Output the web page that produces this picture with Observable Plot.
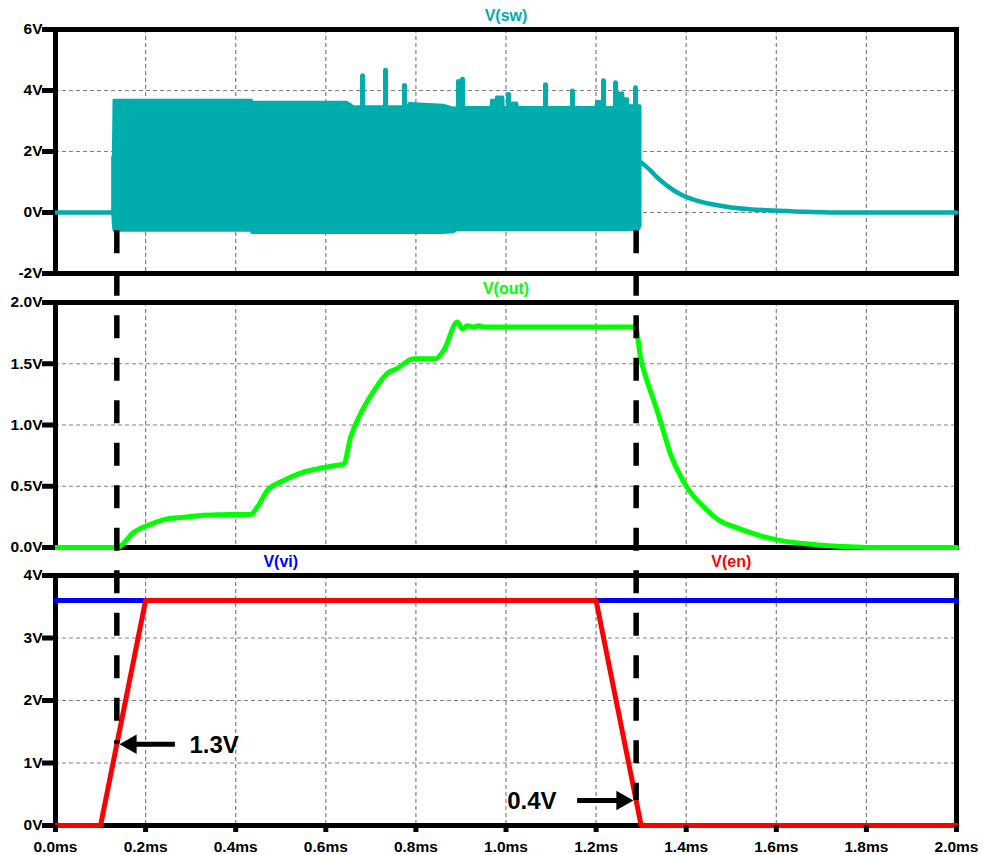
<!DOCTYPE html>
<html>
<head>
<meta charset="utf-8">
<script src="https://cdn.jsdelivr.net/npm/d3@7"></script>
<script src="https://cdn.jsdelivr.net/npm/@observablehq/plot@0.6"></script>
<style>
  body { margin: 0; background: #fff; }
  #scope { position: relative; width: 983px; height: 855px; font-family: "Liberation Sans", Arial, sans-serif; }
  #scope > div { position: absolute; left: 0; }
  #scope svg { overflow: visible; }
</style>
</head>
<body>
<div id="scope"></div>
<script>
// ---- axes ----
const xTicks = [0, 0.2, 0.4, 0.6, 0.8, 1.0, 1.2, 1.4, 1.6, 1.8, 2.0]; // ms
const swTicks = [-2, 0, 2, 4, 6];
const outTicks = [0, 0.5, 1.0, 1.5, 2.0];
const enTicks = [0, 1, 2, 3, 4];

// ---- V(sw): idle level, switching envelope, overshoot spikes, discharge tail ----
const swStartT = [0, 0.128];
const swStartV = [0, 0];

const swBandT  = [0.128, 0.1295, 0.131, 0.436, 0.437, 0.647, 0.655, 0.662, 0.782, 0.786, 0.862, 0.884, 0.892, 0.968, 0.969, 0.979, 0.980, 0.994, 0.995, 1.013, 1.014, 1.025, 1.026, 1.201, 1.202, 1.210, 1.211, 1.249, 1.250, 1.260, 1.261, 1.271, 1.272, 1.296, 1.2986];
const swBandLo = [0.0, -0.4, -0.6, -0.6, -0.67, -0.67, -0.67, -0.67, -0.67, -0.67, -0.67, -0.65, -0.58, -0.58, -0.58, -0.58, -0.58, -0.58, -0.58, -0.58, -0.58, -0.58, -0.58, -0.58, -0.58, -0.58, -0.58, -0.58, -0.58, -0.58, -0.58, -0.58, -0.58, -0.55, -0.45];
const swBandHi = [1.8, 1.8, 3.66, 3.66, 3.6, 3.6, 3.53, 3.45, 3.45, 3.56, 3.5, 3.4, 3.43, 3.43, 3.66, 3.66, 3.77, 3.77, 3.43, 3.43, 3.57, 3.57, 3.43, 3.43, 3.62, 3.62, 3.43, 3.43, 3.9, 3.9, 3.71, 3.71, 3.48, 3.48, 3.48];

const swSpikeT = [0.6815, 0.7325, 0.7747, 0.8946, 0.9034, 1.0056, 1.0877, 1.1476, 1.2164, 1.2431, 1.2875];
const swSpikeV = [4.47, 4.65, 4.15, 4.28, 4.35, 3.85, 4.17, 3.97, 4.30, 4.24, 4.07];

const swTailT = [1.2986, 1.310, 1.321, 1.335, 1.350, 1.365, 1.380, 1.394, 1.410, 1.432, 1.460, 1.500, 1.540, 1.580, 1.640, 1.700, 1.760, 2.0];
const swTailV = [1.65, 1.52, 1.37, 1.16, 0.97, 0.80, 0.655, 0.55, 0.455, 0.355, 0.26, 0.165, 0.11, 0.072, 0.035, 0.012, 0, 0];

// ---- V(out) ----
const outT = [0, 0.137, 0.174, 0.211, 0.248, 0.285, 0.322, 0.359, 0.396, 0.433, 0.448, 0.470, 0.507, 0.544, 0.581, 0.618, 0.640, 0.655, 0.677, 0.707, 0.736, 0.758, 0.795, 0.843, 0.862, 0.892, 0.903, 0.914, 0.929, 0.940, 0.950, 1.2875, 1.2986, 1.313, 1.328, 1.347, 1.365, 1.383, 1.402, 1.439, 1.476, 1.505, 1.532, 1.560, 1.587, 1.620, 1.661, 1.700, 1.735, 1.780, 1.809, 2.0];
const outV = [0, 0, 0.125, 0.19, 0.234, 0.247, 0.261, 0.267, 0.269, 0.27, 0.33, 0.465, 0.547, 0.607, 0.642, 0.667, 0.683, 0.9, 1.09, 1.28, 1.42, 1.46, 1.54, 1.54, 1.61, 1.84, 1.785, 1.81, 1.80, 1.81, 1.80, 1.80, 1.55, 1.36, 1.2, 0.98, 0.765, 0.615, 0.49, 0.33, 0.215, 0.17, 0.135, 0.10, 0.075, 0.05, 0.032, 0.018, 0.01, 0.004, 0, 0];

// ---- V(vi) and V(en) ----
const viT = [0, 2.0];
const viV = [3.6, 3.6];
const enT = [0, 0.1, 0.2, 1.2, 1.3, 2.0];
const enV = [0, 0, 3.6, 3.6, 0, 0];

// enable thresholds marked on V(en)
const thresholdV = [1.3, 0.4];
const thresholdEdge = ["rise", "fall"];

// ---- styling ----
const colSw = "#00adad", colOut = "#00ff00", colVi = "#0000ff", colEn = "#ff0000";
const gridStyle = {stroke: "#808080", strokeWidth: 1.2, strokeDasharray: "4,3"};
const guideDash = [23, 19.5];
const guidePeriod = guideDash[0] + guideDash[1];

const P1 = {top: 0, height: 287, mt: 29, mb: 14, domain: [-2, 6]};
const P2 = {top: 287, height: 274, mt: 15, mb: 14, domain: [0, 2]};
const P3 = {top: 561, height: 294, mt: 14, mb: 30, domain: [0, 4]};

const rows = (T, cols) => T.map((t, i) => Object.fromEntries([["t", t], ...Object.entries(cols).map(([k, a]) => [k, a[i]])]));

const swStart = rows(swStartT, {v: swStartV});
const swBand = rows(swBandT, {lo: swBandLo, hi: swBandHi});
const swSpikes = rows(swSpikeT, {v: swSpikeV});
const swTail = rows(swTailT, {v: swTailV});
const out = rows(outT, {v: outV});
const vi = rows(viT, {v: viV});
const en = rows(enT, {v: enV});

// time at which V(en) crosses a level on the given edge
function crossing(T, V, level, edge) {
  for (let i = 0; i < T.length - 1; i++) {
    const a = V[i], b = V[i + 1];
    const hit = edge === "rise" ? (a < level && b >= level) : (a > level && b <= level);
    if (hit) return T[i] + (level - a) / (b - a) * (T[i + 1] - T[i]);
  }
  return NaN;
}
const guides = thresholdV.map((v, i) => {
  const t = crossing(enT, enV, v, thresholdEdge[i]);
  const dir = thresholdEdge[i] === "rise" ? 1 : -1; // side the label sits on
  return {t, v, dir, tail: t + dir * 0.13, label: `${v}V`};
});

// guide lines start just under the switching envelope
const guideTop = -0.6;
const pageY = (p, v) => p.top + p.mt + (p.domain[1] - v) / (p.domain[1] - p.domain[0]) * (p.height - p.mt - p.mb);
const dashOrigin = pageY(P1, guideTop);
const dashOffset = (y) => ((y - dashOrigin) % guidePeriod + guidePeriod) % guidePeriod;
const guideStyle = {stroke: "black", strokeWidth: 5.5, strokeDasharray: guideDash.join(",")};

const axisYStyle = {tickSize: 13, tickPadding: 0, strokeWidth: 5, stroke: "black", fill: "black", label: null, fontSize: 15.5, fontWeight: "bold"};
const traceLabel = (text, x, fill) => Plot.text([text], {text: d => d, x, frameAnchor: "top", lineAnchor: "middle", dy: -14, fill, fontSize: 16, fontWeight: "bold"});

function panel(p, marks) {
  return Plot.plot({
    width: 983,
    height: p.height,
    marginLeft: 55,
    marginRight: 27,
    marginTop: p.mt,
    marginBottom: p.mb,
    x: {domain: [0, 2], axis: null},
    y: {domain: p.domain, axis: null},
    style: {background: "transparent", overflow: "visible", fontFamily: "'Liberation Sans', Arial, sans-serif", color: "black"},
    marks
  });
}

const grid = (yTicks) => [
  Plot.ruleY(yTicks.slice(1, -1), gridStyle),
  Plot.ruleX(xTicks.slice(1, -1), gridStyle),
  Plot.frame({stroke: "black", strokeWidth: 5})
];

const chart1 = panel(P1, [
  ...grid(swTicks),
  Plot.line(swStart, {x: "t", y: "v", stroke: colSw, strokeWidth: 4.5}),
  Plot.areaY(swBand, {x: "t", y1: "lo", y2: "hi", fill: colSw, stroke: colSw, strokeWidth: 3, strokeLinejoin: "round"}),
  Plot.ruleX(swSpikes, {x: "t", y1: 3.4, y2: "v", stroke: colSw, strokeWidth: 5, strokeLinecap: "round"}),
  Plot.line(swTail, {x: "t", y: "v", stroke: colSw, strokeWidth: 4.5, curve: "monotone-x"}),
  Plot.ruleX(guides, {x: "t", y1: guideTop, y2: P1.domain[0], insetBottom: -P1.mb, ...guideStyle, strokeDashoffset: 0}),
  Plot.axisY(swTicks, {...axisYStyle, tickFormat: d => `${d}V`}),
  traceLabel("V(sw)", 1.0, colSw)
]);

const chart2 = panel(P2, [
  ...grid(outTicks),
  Plot.line(out, {x: "t", y: "v", stroke: colOut, strokeWidth: 5, curve: "monotone-x"}),
  Plot.ruleX(guides, {x: "t", insetTop: -P2.mt, insetBottom: -P2.mb, ...guideStyle, strokeDashoffset: dashOffset(P2.top)}),
  Plot.axisY(outTicks, {...axisYStyle, tickFormat: d => `${d.toFixed(1)}V`}),
  traceLabel("V(out)", 1.0, colOut)
]);

const arrowMarks = guides.flatMap(g => {
  const shaft = g.dir > 0
    ? {x1: g.t, x2: g.tail, insetLeft: 18}
    : {x1: g.tail, x2: g.t, insetRight: 18};
  return [
    Plot.ruleY([g], {y: "v", ...shaft, stroke: "black", strokeWidth: 5}),
    Plot.dot([g], {x: "t", y: "v", symbol: "triangle", r: 7.3, fill: "black", stroke: "none", rotate: g.dir > 0 ? -90 : 90, dx: g.dir * 14.1}),
    Plot.text([g], {x: "tail", y: "v", text: "label", textAnchor: g.dir > 0 ? "start" : "end", dx: g.dir > 0 ? 14 : -21, dy: 1, fill: "black", fontSize: 24, fontWeight: "bold"})
  ];
});

const chart3 = panel(P3, [
  ...grid(enTicks),
  Plot.line(vi, {x: "t", y: "v", stroke: colVi, strokeWidth: 5}),
  Plot.line(en, {x: "t", y: "v", stroke: colEn, strokeWidth: 5}),
  Plot.ruleX(guides, {x: "t", y1: P3.domain[1], y2: "v", insetTop: -P3.mt, ...guideStyle, strokeDashoffset: dashOffset(P3.top)}),
  ...arrowMarks,
  Plot.axisY(enTicks, {...axisYStyle, tickFormat: d => `${d}V`}),
  Plot.axisX(xTicks, {tickSize: 7, tickPadding: 8, strokeWidth: 5, stroke: "black", fill: "black", label: null, fontSize: 15.5, fontWeight: "bold", tickFormat: d => `${d.toFixed(1)}ms`}),
  traceLabel("V(vi)", 0.5, colVi),
  traceLabel("V(en)", 1.5, colEn)
]);

const scope = document.getElementById("scope");
[[P1, chart1], [P2, chart2], [P3, chart3]].forEach(([p, chart]) => {
  const holder = document.createElement("div");
  holder.style.top = `${p.top}px`;
  holder.appendChild(chart);
  scope.appendChild(holder);
});
</script>
</body>
</html>
